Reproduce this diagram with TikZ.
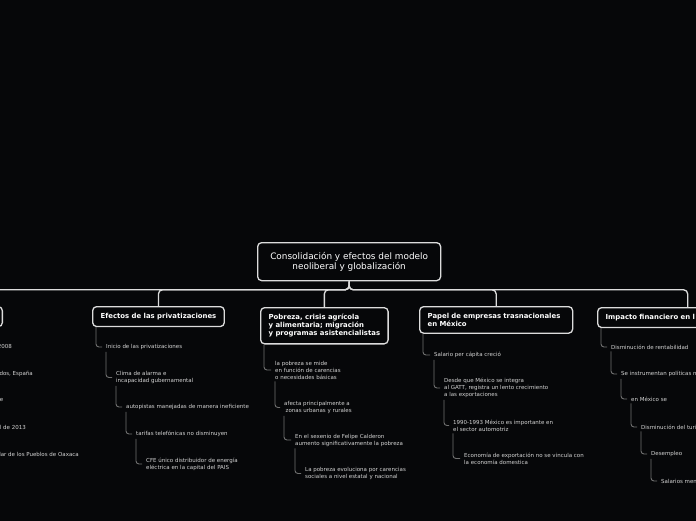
\documentclass[tikz,border=0pt]{standalone}
\usepackage{fontspec}
\setmainfont{DejaVu Sans}
\definecolor{bg}{HTML}{060709}
\definecolor{lineC}{HTML}{DCDCDC}
\definecolor{subC}{HTML}{707070}
\definecolor{txtC}{HTML}{D4D4D4}
\begin{document}
\begin{tikzpicture}[x=1pt,y=-1pt,
  rootbox/.style={draw=lineC, line width=1.3pt, rounded corners=4pt, fill=bg, text=white,
    font=\fontsize{8.9}{10}\selectfont, align=center, minimum width=183pt, minimum height=38pt,
    inner sep=0pt, anchor=north west},
  titlebox/.style={draw=lineC, line width=1.3pt, rounded corners=4pt, fill=bg, text=white,
    font=\bfseries\fontsize{6.9}{8}\selectfont, align=left, inner xsep=8pt, inner ysep=6.6pt,
    anchor=north west},
  leaf/.style={text=txtC, font=\fontsize{5.5}{7}\selectfont, align=left, inner sep=0pt, anchor=west},
  leafR/.style={leaf, anchor=east},
  bus/.style={draw=lineC, line width=1.3pt, rounded corners=4pt},
  conn/.style={draw=subC, line width=0.9pt, rounded corners=3pt}]
\useasboundingbox (0,0) rectangle (696,520);
\clip (0,0) rectangle (696,520);
\fill[bg] (-10,-10) rectangle (706,530);

% root and main branches
\node[rootbox] (root) at (257,242) {Consolidación y efectos del modelo\\ neoliberal y globalización};
\node[titlebox, anchor=north east, minimum width=130pt, minimum height=20pt] (mov) at (3,306) {};
\node[titlebox] (efe) at (92,306) {Efectos de las privatizaciones};
\node[titlebox] (pob) at (260,307) {Pobreza, crisis agrícola\\y alimentaria; migración\\y programas asistencialistas};
\node[titlebox, text width=137pt] (pap) at (419,306) {Papel de empresas trasnacionales\\en México};
\node[titlebox, text width=164pt] (imp) at (597,307) {Impacto financiero en l};

\foreach \b in {mov,efe,pob,pap,imp}
  \draw[bus] (root.south) -- ++(0,8.5) -| (\b.north);

% left branch (cut off)
\node[leafR] (l1) at (12,346) {2008};
\node[leafR] (l2) at (33,374) {dos, España};
\node[leafR] (l3) at (3.5,400) {e};
\node[leafR] (l4) at (26,427) {l de 2013};
\node[leafR] (l5) at (79,454) {lar de los Pueblos de Oaxaca};

% Efectos de las privatizaciones
\node[leaf] (e1) at (106,347) {Inicio de las privatizaciones};
\node[leaf] (e2) at (116,377.5) {Clima de alarma e\\incapacidad gubernamental};
\node[leaf] (e3) at (126,407) {autopistas manejadas de manera ineficiente};
\node[leaf] (e4) at (136,434) {tarifas telefónicas no disminuyen};
\node[leaf] (e5) at (146,464) {CFE único distribuidor de energía\\eléctrica en la capital del PAIS};
\draw[conn] ([xshift=4pt]efe.south west) |- ([xshift=-4pt]e1.west);
\draw[conn] ([yshift=-2pt]e1.south west) |- ([xshift=-4pt]e2.west);
\draw[conn] ([yshift=-2pt]e2.south west) |- ([xshift=-4pt]e3.west);
\draw[conn] ([yshift=-2pt]e3.south west) |- ([xshift=-4pt]e4.west);
\draw[conn] ([yshift=-2pt]e4.south west) |- ([xshift=-4pt]e5.west);

% Pobreza
\node[leaf] (p1) at (275,370) {la pobreza se mide\\en función de carencias\\o necesidades básicas};
\node[leaf] (p2) at (284,407.5) {afecta principalmente a\\\hspace*{1.5pt}zonas urbanas y rurales};
\node[leaf] (p3) at (295,440) {En el sexenio de Felipe Calderon\\aumento significativamente la pobreza};
\node[leaf] (p4) at (305,473.5) {La pobreza evoluciona por carencias\\sociales a nivel estatal y nacional};
\draw[conn] ([xshift=4pt]pob.south west) |- ([xshift=-4pt]p1.west);
\draw[conn] ([yshift=-2pt]p1.south west) |- ([xshift=-4pt]p2.west);
\draw[conn] ([yshift=-2pt]p2.south west) |- ([xshift=-4pt]p3.west);
\draw[conn] ([yshift=-2pt]p3.south west) |- ([xshift=-4pt]p4.west);

% Papel de empresas
\node[leaf] (q1) at (434,355) {Salario per cápita creció};
\node[leaf] (q2) at (444,388) {Desde que México se integra\\al GATT, registra un lento crecimiento\\a las exportaciones};
\node[leaf] (q3) at (453,425.5) {1990-1993 México es importante en\\el sector automotriz};
\node[leaf] (q4) at (464,458.5) {Economía de exportación no se vincula con\\la economía domestica};
\draw[conn] ([xshift=4pt]pap.south west) |- ([xshift=-4pt]q1.west);
\draw[conn] ([yshift=-2pt]q1.south west) |- ([xshift=-4pt]q2.west);
\draw[conn] ([yshift=-2pt]q2.south west) |- ([xshift=-4pt]q3.west);
\draw[conn] ([yshift=-2pt]q3.south west) |- ([xshift=-4pt]q4.west);

% Impacto financiero
\node[leaf] (r1) at (611,347) {Disminución de rentabilidad};
\node[leaf] (r2) at (621,374) {Se instrumentan políticas m};
\node[leaf] (r3) at (631,399) {en México se};
\node[leaf] (r4) at (641,427) {Disminución del turi};
\node[leaf] (r5) at (651,454) {Desempleo};
\node[leaf] (r6) at (661,481) {Salarios men};
\draw[conn] ([xshift=4pt]imp.south west) |- ([xshift=-4pt]r1.west);
\draw[conn] ([yshift=-2pt]r1.south west) |- ([xshift=-4pt]r2.west);
\draw[conn] ([yshift=-2pt]r2.south west) |- ([xshift=-4pt]r3.west);
\draw[conn] ([yshift=-2pt]r3.south west) |- ([xshift=-4pt]r4.west);
\draw[conn] ([yshift=-2pt]r4.south west) |- ([xshift=-4pt]r5.west);
\draw[conn] ([yshift=-2pt]r5.south west) |- ([xshift=-4pt]r6.west);
\end{tikzpicture}
\end{document}
